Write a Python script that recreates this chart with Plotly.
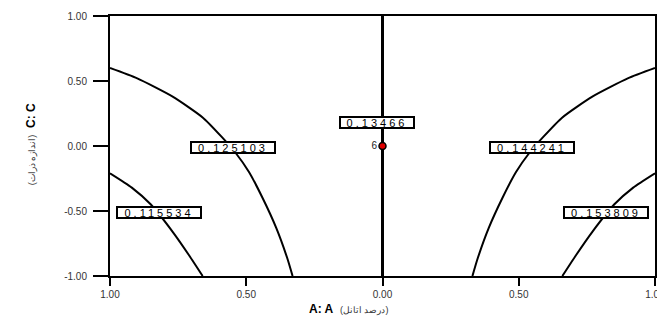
"""Contour plot: A vs C, symmetric contour lines with boxed labels."""
import plotly.graph_objects as go

# contour curves (A, C coordinates)
c1_x = [-1.00, -0.90, -0.77, -0.66, -0.59, -0.54, -0.49, -0.44, -0.39, -0.35, -0.33]
c1_y = [0.60, 0.52, 0.38, 0.22, 0.07, -0.05, -0.20, -0.40, -0.63, -0.86, -1.00]
c2_x = [-1.00, -0.92, -0.85, -0.77, -0.71, -0.66]
c2_y = [-0.21, -0.32, -0.45, -0.66, -0.84, -1.00]
c3_x = [1.00, 0.90, 0.77, 0.66, 0.59, 0.54, 0.49, 0.44, 0.39, 0.35, 0.33]
c3_y = [0.60, 0.52, 0.38, 0.22, 0.07, -0.05, -0.20, -0.40, -0.63, -0.86, -1.00]
c4_x = [1.00, 0.92, 0.85, 0.77, 0.71, 0.66]
c4_y = [-0.21, -0.32, -0.45, -0.66, -0.84, -1.00]
c0_x = [0.0, 0.0]
c0_y = [-1.0, 1.0]

labels = ['0.125103', '0.115534', '0.144241', '0.153809', '0.13466']
label_x = [-0.55, -0.82, 0.55, 0.82, -0.02]
label_y = [-0.01, -0.515, -0.01, -0.515, 0.177]

pt_x = [0.0]
pt_y = [0.0]
pt_text = ['6']

tick_vals = [-1.0, -0.5, 0.0, 0.5, 1.0]
x_tick_text = ['1.00', '0.50', '0.00', '0.50', '1.00']
y_tick_text = ['-1.00', '-0.50', '0.00', '0.50', '1.00']

x_title = '<b>A: A</b>  <span style="font-size:9px;color:#333">(درصد اتانل)</span>'
y_title = '<span style="font-size:9px;color:#333">(اندازه ذرات)</span>  <b>C: C</b>'

fig = go.Figure()

for xs, ys in [(c1_x, c1_y), (c2_x, c2_y), (c3_x, c3_y), (c4_x, c4_y)]:
    fig.add_trace(go.Scatter(
        x=xs, y=ys, mode='lines',
        line=dict(color='black', width=2, shape='spline', smoothing=0.6),
        showlegend=False, hoverinfo='skip',
    ))

# vertical contour at A = 0
fig.add_trace(go.Scatter(
    x=c0_x, y=c0_y, mode='lines',
    line=dict(color='black', width=3),
    showlegend=False, hoverinfo='skip',
))

fig.add_trace(go.Scatter(
    x=pt_x, y=pt_y, mode='markers+text',
    text=pt_text, textposition='middle left',
    textfont=dict(size=10, color='#222', family='Liberation Sans'),
    marker=dict(color='#E00000', size=7, line=dict(color='black', width=1.5)),
    showlegend=False, hoverinfo='skip',
))

for txt, lx, ly in zip(labels, label_x, label_y):
    fig.add_annotation(
        x=lx, y=ly, text=f'<span style="letter-spacing:3px">{txt}</span>',
        showarrow=False,
        font=dict(size=11, color='black', family='Liberation Sans'),
        width=2 + 10 * len(txt), height=9,
        bgcolor='white', bordercolor='black', borderwidth=2, borderpad=0,
    )

# axis titles placed as annotations (page body has an 8px margin)
fig.add_annotation(x=0.4385, y=-0.16, xref='paper', yref='paper',
                   text=x_title, showarrow=False,
                   font=dict(size=12, color='black', family='Liberation Sans'))
fig.add_annotation(x=-0.161, y=0.508, xref='paper', yref='paper',
                   text=y_title, showarrow=False, textangle=-90,
                   font=dict(size=12, color='black', family='Liberation Sans'))

fig.update_layout(
    width=657, height=320,
    paper_bgcolor='white', plot_bgcolor='white',
    margin=dict(l=102, r=10, t=8, b=52),
    font=dict(family='Liberation Sans', size=9, color='black'),
    xaxis=dict(
        range=[-1, 1], tickvals=tick_vals, ticktext=x_tick_text,
        showgrid=False, zeroline=False, automargin=False,
        showline=True, mirror=True, linecolor='black', linewidth=2,
        ticks='outside', ticklen=8, tickwidth=2, tickcolor='black',
        tickfont=dict(size=10, color='#333'), ticklabeloverflow='allow',
    ),
    yaxis=dict(
        range=[-1, 1], tickvals=tick_vals, ticktext=y_tick_text,
        showgrid=False, zeroline=False, automargin=False,
        showline=True, mirror=True, linecolor='black', linewidth=2,
        ticks='outside', ticklen=15, tickwidth=2, tickcolor='black',
        tickfont=dict(size=10, color='#333'), ticklabelstandoff=4,
    ),
)

fig.write_html("out.html")
